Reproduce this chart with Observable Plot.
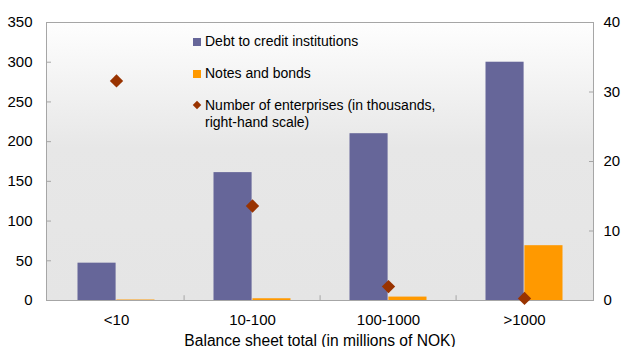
<!DOCTYPE html>
<html>
<head>
<meta charset="utf-8">
<script src="https://cdn.jsdelivr.net/npm/d3@7"></script>
<script src="https://cdn.jsdelivr.net/npm/@observablehq/plot@0.6"></script>
<style>
  html, body { margin: 0; padding: 0; background: #fff; }
  #wrap { position: relative; width: 625px; height: 347px; font-family: "Liberation Sans", Arial, sans-serif; }
  #legend { position: absolute; left: 193px; top: 33px; font-size: 14px; color: #000; line-height: 17px; }
  #legend .row { display: flex; align-items: flex-start; margin-bottom: 15px; }
  #legend .sw { width: 8px; height: 8px; margin-top: 5px; margin-right: 4px; flex: none; }
  #legend .dia { width: 6px; height: 6px; margin: 5px 5px 0 1px; transform: rotate(45deg); flex: none; }
</style>
</head>
<body>
<div id="wrap"></div>
<script>
const categories = ["<10", "10-100", "100-1000", ">1000"];
const debt = [47, 161, 210, 300];
const notes = [0.6, 2.2, 4.3, 69];
const enterprises = [31.6, 13.6, 2.0, 0.3];
const leftTicks = [0, 50, 100, 150, 200, 250, 300, 350];
const rightTicks = [0, 10, 20, 30, 40];
const seriesNames = ["Debt to credit institutions", "Notes and bonds", "Number of enterprises (in thousands,<br>right-hand scale)"];
const xTitle = "Balance sheet total (in millions of NOK)";

const colors = { debt: "#666699", notes: "#ff9900", ent: "#993300" };
const ratio = 350 / 40;

const rows = categories.map((c, i) => ({ cat: c, debt: debt[i], notes: notes[i], ent: enterprises[i] }));

const plot = Plot.plot({
  width: 625,
  height: 347,
  marginLeft: 46,
  marginRight: 32,
  marginTop: 22,
  marginBottom: 47,
  style: { fontFamily: "Liberation Sans, Arial, sans-serif", fontSize: "15px", color: "#000", background: "transparent" },
  x: { domain: categories, padding: 0, label: null },
  y: { domain: [0, 350], label: null },
  marks: [
    Plot.frame({ fill: "url(#bggrad)", stroke: "#a6a6a6" }),
    Plot.barY(rows, { x: "cat", y: "debt", fill: colors.debt, insetLeft: 29.5, insetRight: 68.4 }),
    Plot.barY(rows, { x: "cat", y: "notes", fill: colors.notes, insetLeft: 68.4, insetRight: 29.5 }),
    Plot.ruleX(categories.slice(1), { x: d => d, y1: 0, y2: 6, dx: -68.4, stroke: "#a6a6a6" }),
    Plot.axisY(leftTicks, { anchor: "left", tickSize: 0, tickPadding: 14, fontSize: 15, label: null }),
    Plot.axisY(leftTicks, { anchor: "left", tickSize: -5, text: null, stroke: "#a6a6a6", label: null }),
    Plot.axisY(rightTicks.map(d => d * ratio), { anchor: "right", tickSize: 0, tickPadding: 10, fontSize: 15, tickFormat: d => d / ratio, label: null }),
    Plot.axisY(rightTicks.map(d => d * ratio), { anchor: "right", tickSize: -5, text: null, stroke: "#a6a6a6", label: null }),
    Plot.axisX({ tickSize: 0, tickPadding: 14, fontSize: 15, label: null }),
    Plot.axisX([], { tickSize: 0, fontSize: 15.6, label: xTitle, labelAnchor: "center", labelOffset: 45, labelArrow: "none" }),
    Plot.dot(rows, { x: "cat", y: d => d.ent * ratio, symbol: "diamond2", r: 6, fill: colors.ent, stroke: "none" })
  ]
});

const ns = "http://www.w3.org/2000/svg";
const defs = document.createElementNS(ns, "defs");
defs.innerHTML = `<linearGradient id="bggrad" x1="0" y1="0" x2="0" y2="1">
  <stop offset="0" stop-color="#fefefe"/>
  <stop offset="0.45" stop-color="#e7e7e7"/>
  <stop offset="1" stop-color="#e5e5e5"/>
</linearGradient>`;
plot.insertBefore(defs, plot.firstChild);

const wrap = document.getElementById("wrap");
wrap.appendChild(plot);

const legend = document.createElement("div");
legend.id = "legend";
legend.innerHTML = `
  <div class="row"><div class="sw" style="background:${colors.debt}"></div><div>${seriesNames[0]}</div></div>
  <div class="row"><div class="sw" style="background:${colors.notes}"></div><div>${seriesNames[1]}</div></div>
  <div class="row"><div class="dia" style="background:${colors.ent}"></div><div>${seriesNames[2]}</div></div>`;
wrap.appendChild(legend);
</script>
</body>
</html>
